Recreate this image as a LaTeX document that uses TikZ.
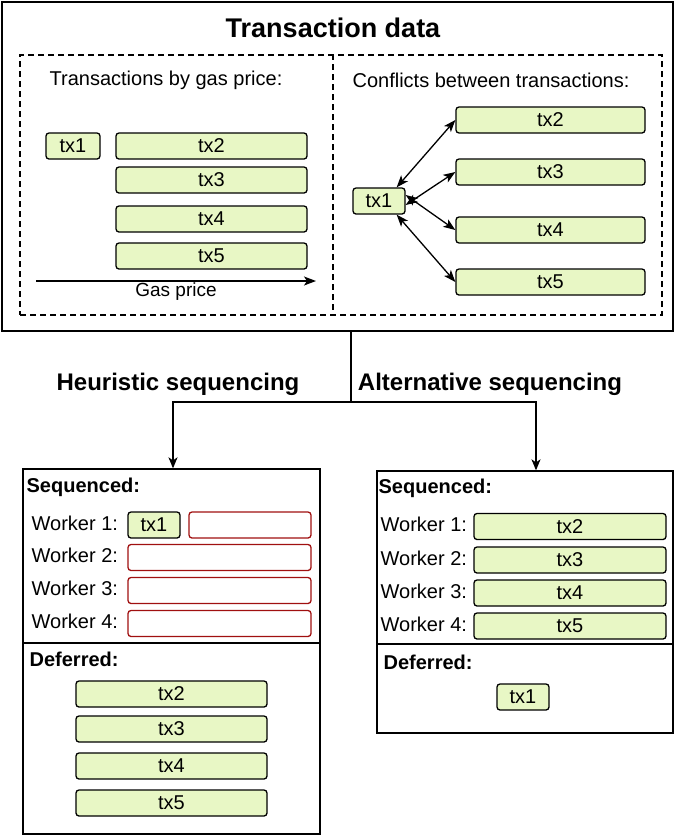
\documentclass[tikz,border=0pt]{standalone}
\usepackage{fontspec}
\setmainfont{Liberation Sans}
\usetikzlibrary{arrows.meta}
\definecolor{txgreen}{RGB}{232,247,197}
\definecolor{slotred}{RGB}{160,16,16}
\tikzset{
  tx/.style={draw,rounded corners=3pt,fill=txgreen,line width=1.3pt,inner sep=0pt,
    minimum height=26pt,font=\fontsize{20}{24}\selectfont},
  slot/.style={draw=slotred,rounded corners=3pt,line width=1.3pt,inner sep=0pt,minimum height=26pt},
  lbl/.style={font=\fontsize{20}{24}\selectfont,inner sep=0pt},
  head/.style={font=\bfseries\fontsize{20}{24}\selectfont,inner sep=0pt},
  panel/.style={draw,inner sep=0pt},
  dashpanel/.style={draw,dash pattern=on 6pt off 4pt,inner sep=0pt},
}
\begin{document}
\begin{tikzpicture}[x=1pt,y=-1pt,>={Stealth[length=12pt,width=9pt,inset=3pt]},line width=1.3pt]
\useasboundingbox (0,0) rectangle (675,836);
% top frame with its two dashed panels
\node[panel,minimum width=671pt,minimum height=329pt] (data) at (337.5,166.5) {};
\node[font=\bfseries\fontsize{27}{32}\selectfont] (title) at (333,28) {Transaction data};
\node[dashpanel,minimum width=642pt,minimum height=260pt] (panels) at (341,185) {};
\coordinate (mid) at (333,185);
\draw[dash pattern=on 6pt off 4pt] (panels.north -| mid) -- (panels.south -| mid);

% transactions sorted by gas price
\node[lbl] (pricetxt) at (166,80) {Transactions by gas price:};
\node[tx,minimum width=54pt] (p1) at (73,146) {tx1};
\foreach \i/\y in {2/146,3/180,4/219,5/256}
  \node[tx,minimum width=191pt] (p\i) at (211.5,\y) {tx\i};
\path (36,281) coordinate (gs) (316,281) coordinate (ge);
\draw[->] (gs) -- (ge);
\node[lbl,font=\fontsize{19}{22}\selectfont] (gastxt) at (176,292) {Gas price};

% conflict graph around tx1
\node[lbl] (conftxt) at (491,80) {Conflicts between transactions:};
\node[tx,minimum width=52pt] (c1) at (379,201) {tx1};
\foreach \i/\y in {2/120,3/172,4/230,5/282}
  \node[tx,minimum width=189pt] (c\i) at (550.5,\y) {tx\i};
\draw[<->] ([xshift=-9pt]c1.north east) -- (c2.west);
\draw[<->] ([yshift=-4pt]c1.east) -- (c3.west);
\draw[<->] ([yshift=6pt]c1.east) -- (c4.west);
\draw[<->] ([xshift=-9pt]c1.south east) -- (c5.west);

% the two ways of sequencing
\node[panel,minimum width=297pt,minimum height=174pt] (seqL) at (171.5,556) {};
\node[panel,minimum width=297pt,minimum height=191pt] (defL) at (171.5,738.5) {};
\node[panel,minimum width=296pt,minimum height=173pt] (seqR) at (525,557.5) {};
\node[panel,minimum width=296pt,minimum height=89pt] (defR) at (525,688.5) {};
\coordinate (fork) at (351,402);
\draw (data.south -| fork) -- (fork);
\draw[-{Stealth[length=11pt,width=9pt,inset=3pt]}] (fork) -| ([xshift=1.5pt]seqL.north);
\draw[-{Stealth[length=11pt,width=9pt,inset=3pt]}] (fork) -| ([xshift=11pt]seqR.north);
\node[font=\bfseries\fontsize{24}{28}\selectfont] (heur) at (178,384) {Heuristic sequencing};
\node[font=\bfseries\fontsize{24}{28}\selectfont] (alt) at (490,384) {Alternative sequencing};

% heuristic: tx1 runs alone, the rest waits
\node[head,anchor=west] (seqLtxt) at (26,487) {Sequenced:};
\foreach \i/\y in {1/525,2/557.5,3/590.5,4/623.5}
  \node[lbl,anchor=west] (wL\i) at (31,\y-2) {Worker \i:};
\node[tx,minimum width=52pt] (l1) at (154,525) {tx1};
\node[slot,minimum width=122pt] (s1) at (250,525) {};
\foreach \i/\y in {2/557.5,3/590.5,4/623.5}
  \node[slot,minimum width=183pt] (s\i) at (219.5,\y) {};
\node[head,anchor=west] (defLtxt) at (29,659) {Deferred:};
\foreach \i/\y in {2/694,3/729,4/766,5/803}
  \node[tx,minimum width=191pt] (d\i) at (171.5,\y) {tx\i};

% alternative: tx2..tx5 in parallel, tx1 deferred
\node[head,anchor=west] (seqRtxt) at (378,488) {Sequenced:};
\foreach \i/\y/\t in {1/526.5/2,2/560/3,3/593/4,4/626/5}{
  \node[lbl,anchor=west] (wR\i) at (380,\y-2) {Worker \i:};
  \node[tx,minimum width=192pt] (r\t) at (570,\y) {tx\t};
}
\node[head,anchor=west] (defRtxt) at (383,662) {Deferred:};
\node[tx,minimum width=52pt] (r1) at (523,697) {tx1};
\end{tikzpicture}
\end{document}
